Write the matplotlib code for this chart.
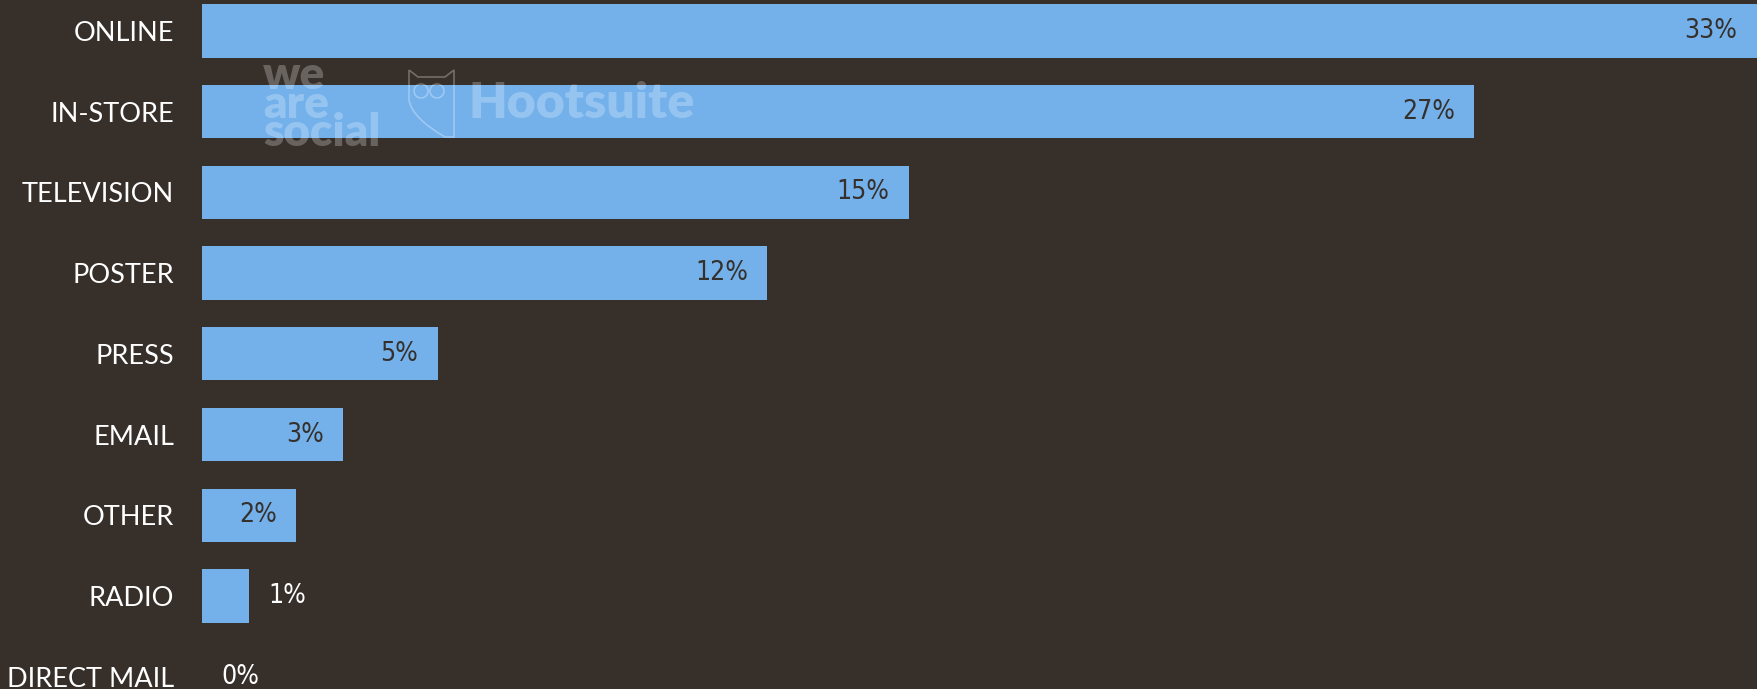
import matplotlib
matplotlib.use('Agg')
import matplotlib.pyplot as plt
from matplotlib.path import Path
from matplotlib.patches import PathPatch, Ellipse

# share of where people discover brands (%)
categories = ['ONLINE', 'IN-STORE', 'TELEVISION', 'POSTER', 'PRESS',
              'EMAIL', 'OTHER', 'RADIO', 'DIRECT MAIL']
values = [33, 27, 15, 12, 5, 3, 2, 1, 0]

bg = '#372f2a'
bar_color = '#74b1eb'
W, H = 1757, 689

fig = plt.figure(figsize=(17.57, 6.89), dpi=100, facecolor=bg)
ax = fig.add_axes([202 / W, 0, 1 - 202 / W, 1])
ax.set_facecolor(bg)

ypos = list(range(len(categories)))
ax.barh(ypos, values, height=0.66, color=bar_color)

ax.set_xlim(0, 33)
ax.set_ylim((689 - 31) / 80.7, -31 / 80.7)

ax.set_yticks(ypos)
ax.set_yticklabels(categories, fontfamily='Lato', fontsize=19.5, color='white')
ax.tick_params(axis='y', length=0, pad=20)
ax.set_xticks([])
for s in ax.spines.values():
    s.set_visible(False)

# value labels: inside for wider bars, outside for tiny ones
for y, v in zip(ypos, values):
    if v >= 2:
        ax.annotate(f'{v}%', (v, y), xytext=(-14, 0), textcoords='offset points',
                    ha='right', va='center', fontsize=19, color='#35302b',
                    fontfamily='DejaVu Sans', fontstretch='condensed')
    else:
        ax.annotate(f'{v}%', (v, y), xytext=(14, 0), textcoords='offset points',
                    ha='left', va='center', fontsize=19, color='white',
                    fontfamily='DejaVu Sans', fontstretch='condensed')

# faint watermark
fig.text(263 / W, 1 - 104 / H, 'we\nare\nsocial', ha='left', va='center',
         fontsize=33, fontweight='heavy', color='white', alpha=0.25,
         fontfamily='Lato', linespacing=0.62)
fig.text(468 / W, 1 - 103 / H, 'Hootsuite', ha='left', va='center',
         fontsize=36, fontweight='heavy', color='white', alpha=0.25,
         fontfamily='Lato')


# owl outline (pixel coords -> figure fraction)
def px(x, y):
    return (x / W, 1 - y / H)


owl = [px(409, 70), px(418, 77), px(445, 77), px(454, 70), px(454, 137),
       px(445, 137), px(412, 118), px(409, 100), px(409, 70)]
codes = [Path.MOVETO] + [Path.LINETO] * 5 + [Path.CURVE3, Path.CURVE3, Path.LINETO]
fig.patches.append(PathPatch(Path(owl, codes), transform=fig.transFigure,
                             fill=False, edgecolor='white', alpha=0.3, lw=1.2))
for cx in (421, 437):
    fig.patches.append(Ellipse(px(cx, 91), 14 / W, 14 / H, transform=fig.transFigure,
                               fill=False, edgecolor='white', alpha=0.3, lw=1.2))

fig.savefig('out.png', dpi=100, facecolor=bg)
